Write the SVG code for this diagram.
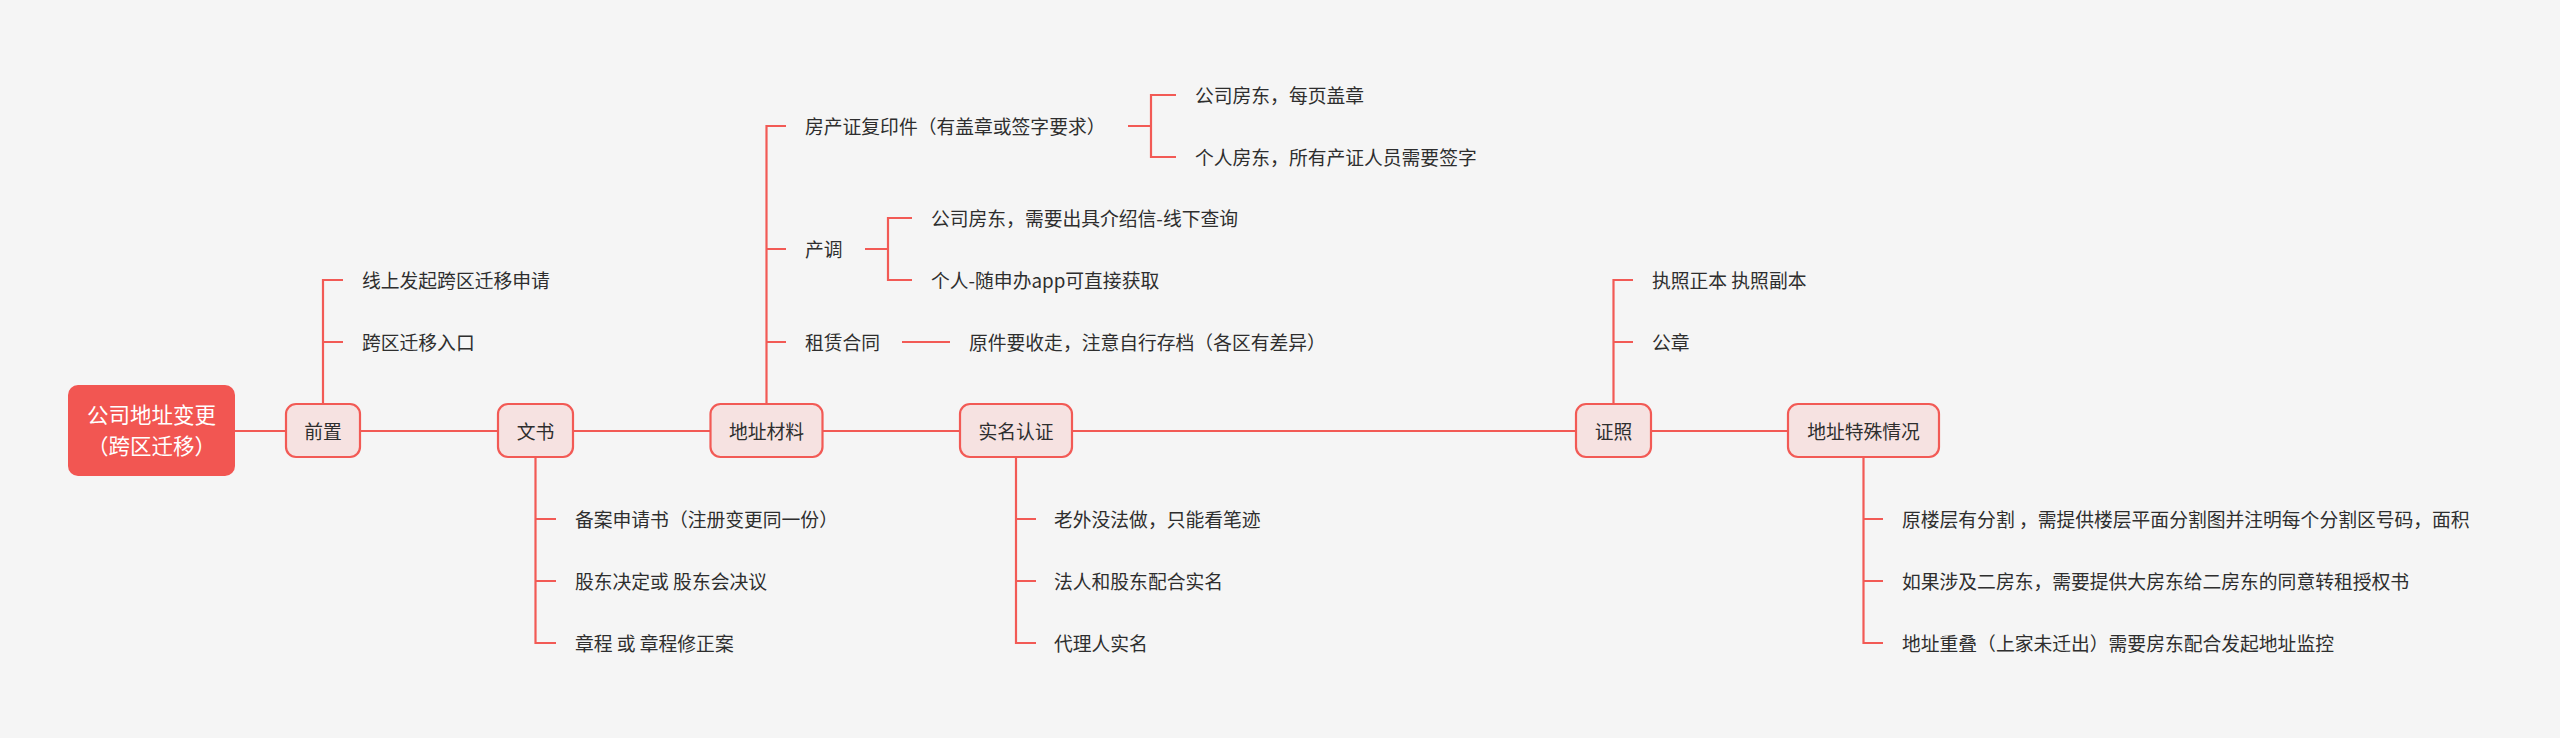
<svg xmlns="http://www.w3.org/2000/svg" width="2560" height="738" viewBox="0 0 2560 738">
<style>
.bg{fill:#f5f5f5}
.line{fill:none;stroke:#f25a55;stroke-width:2.2;stroke-linejoin:miter;stroke-linecap:butt}
.node rect{fill:#f6e2e1;stroke:#f25a55;stroke-width:2.2}
.root rect{fill:#f25652;stroke:none}
text{font-family:"Noto Sans CJK SC","Noto Sans",sans-serif;dominant-baseline:central;fill:#2e2e2e}
.nt{font-size:18.8px;text-anchor:middle}
.lt{font-size:18.8px}
.rt{font-size:21.5px;fill:#fff;text-anchor:middle}
</style>
<rect class="bg" x="0" y="0" width="2560" height="738"/>
<g id="connectors">
<path class="line" d="M235 431H286M360 431H498M573 431H710.5M822.5 431H960M1072 431H1576M1651 431H1788"/>
<path class="line" d="M323 404V280H343M323 342H343"/>
<path class="line" d="M535.5 457V643H556M535.5 519H556M535.5 581H556"/>
<path class="line" d="M766.5 404V126H786M766.5 249H786M766.5 342H786"/>
<path class="line" d="M1128 126H1151M1176 95H1151V157H1176"/>
<path class="line" d="M865 249H888M912 218H888V280H912"/>
<path class="line" d="M902 342H950"/>
<path class="line" d="M1016 457V643H1036M1016 519H1036M1016 581H1036"/>
<path class="line" d="M1613.5 404V280H1633M1613.5 342H1633"/>
<path class="line" d="M1863.5 457V643H1883M1863.5 519H1883M1863.5 581H1883"/>
</g>
<g id="root" class="root">
<rect x="68" y="385" width="167" height="91" rx="10"/>
<text class="rt" x="151.5" y="413.5">公司地址变更</text>
<text class="rt" x="151.5" y="444.5">（跨区迁移）</text>
</g>
<g id="n-qianzhi" class="node">
<rect x="286" y="404" width="74" height="53" rx="10"/>
<text class="nt" x="323" y="430">前置</text>
</g>
<g id="n-wenshu" class="node">
<rect x="498" y="404" width="75" height="53" rx="10"/>
<text class="nt" x="535.5" y="430">文书</text>
</g>
<g id="n-dizhicailiao" class="node">
<rect x="710.5" y="404" width="112" height="53" rx="10"/>
<text class="nt" x="766.5" y="430">地址材料</text>
</g>
<g id="n-shiming" class="node">
<rect x="960" y="404" width="112" height="53" rx="10"/>
<text class="nt" x="1016" y="430">实名认证</text>
</g>
<g id="n-zhengzhao" class="node">
<rect x="1576" y="404" width="75" height="53" rx="10"/>
<text class="nt" x="1613.5" y="430">证照</text>
</g>
<g id="n-teshu" class="node">
<rect x="1788" y="404" width="151" height="53" rx="10"/>
<text class="nt" x="1863.5" y="430">地址特殊情况</text>
</g>
<g id="leaf-qianzhi">
<text class="lt" x="362" y="279">线上发起跨区迁移申请</text>
<text class="lt" x="362" y="341">跨区迁移入口</text>
</g>
<g id="leaf-wenshu">
<text class="lt" x="575" y="518">备案申请书（注册变更同一份）</text>
<text class="lt" x="575" y="580">股东决定或 股东会决议</text>
<text class="lt" x="575" y="642">章程 或 章程修正案</text>
</g>
<g id="leaf-dizhi">
<text class="lt" x="805" y="125">房产证复印件（有盖章或签字要求）</text>
<text class="lt" x="805" y="248">产调</text>
<text class="lt" x="805" y="341">租赁合同</text>
<text class="lt" x="1195" y="94">公司房东，每页盖章</text>
<text class="lt" x="1195" y="156">个人房东，所有产证人员需要签字</text>
<text class="lt" x="931" y="217">公司房东，需要出具介绍信-线下查询</text>
<text class="lt" x="931" y="279">个人-随申办app可直接获取</text>
<text class="lt" x="969" y="341">原件要收走，注意自行存档（各区有差异）</text>
</g>
<g id="leaf-shiming">
<text class="lt" x="1054" y="518">老外没法做，只能看笔迹</text>
<text class="lt" x="1054" y="580">法人和股东配合实名</text>
<text class="lt" x="1054" y="642">代理人实名</text>
</g>
<g id="leaf-zhengzhao">
<text class="lt" x="1652" y="279">执照正本 执照副本</text>
<text class="lt" x="1652" y="341">公章</text>
</g>
<g id="leaf-teshu">
<text class="lt" x="1902" y="518">原楼层有分割 ，需提供楼层平面分割图并注明每个分割区号码，面积</text>
<text class="lt" x="1902" y="580">如果涉及二房东，需要提供大房东给二房东的同意转租授权书</text>
<text class="lt" x="1902" y="642">地址重叠（上家未迁出）需要房东配合发起地址监控</text>
</g>
</svg>
